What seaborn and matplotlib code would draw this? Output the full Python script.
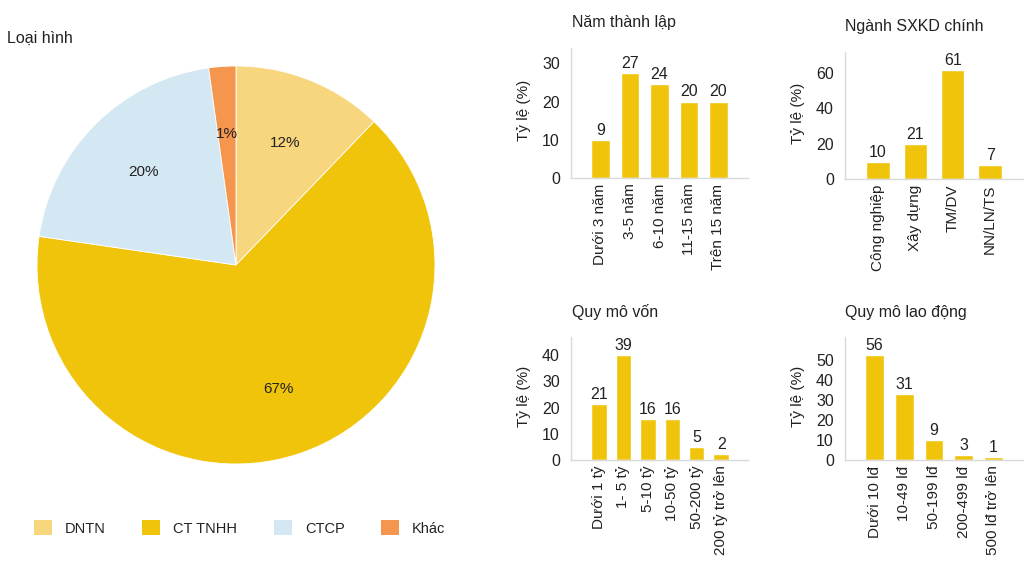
import matplotlib
matplotlib.use("Agg")
import matplotlib.pyplot as plt
from matplotlib.patches import Patch
import seaborn as sns
import pandas as pd

# ---------------- data ----------------
pie_categories = ["DNTN", "CT TNHH", "CTCP", "Khác"]
pie_values = [12.2, 65.1, 20.5, 2.2]
pie_labels = ["12%", "67%", "20%", "1%"]

nam_categories = ["Dưới 3 năm", "3-5 năm", "6-10 năm", "11-15 năm", "Trên 15 năm"]
nam_heights = [10.0, 27.4, 24.5, 20.0, 20.0]
nam_labels = ["9", "27", "24", "20", "20"]

nganh_categories = ["Công nghiệp", "Xây dựng", "TM/DV", "NN/LN/TS"]
nganh_heights = [9.6, 19.8, 61.6, 7.9]
nganh_labels = ["10", "21", "61", "7"]

von_categories = ["Dưới 1 tỷ", "1- 5 tỷ", "5-10 tỷ", "10-50 tỷ", "50-200 tỷ", "200 tỷ trở lên"]
von_heights = [21.3, 40.0, 15.6, 15.6, 4.9, 2.3]
von_labels = ["21", "39", "16", "16", "5", "2"]

ld_categories = ["Dưới 10 lđ", "10-49 lđ", "50-199 lđ", "200-499 lđ", "500 lđ trở lên"]
ld_heights = [52.5, 33.0, 10.0, 2.5, 1.5]
ld_labels = ["56", "31", "9", "3", "1"]

# ---------------- style ----------------
sns.set_theme(style="white")
plt.rcParams["font.family"] = ["Liberation Sans Narrow", "Liberation Sans", "DejaVu Sans"]
TXT = "#222222"
YEL = "#F1C40C"
pie_colors = ["#F7D67E", "#F1C40C", "#D4E8F3", "#F5964F"]

W, H = 1035, 565
fig = plt.figure(figsize=(W / 100, H / 100), dpi=100)

def fx(px):
    return px / W

def fy(py):
    return 1 - py / H

# ---------------- pie ----------------
cx, cy, r = 236, 265, 199
axp = fig.add_axes([fx(cx - r), fy(cy + r), 2 * r / W, 2 * r / H])
wedges, texts = axp.pie(pie_values, colors=pie_colors, startangle=90, counterclock=False,
                        labels=pie_labels, labeldistance=0.66,
                        wedgeprops=dict(edgecolor="white", linewidth=0.6),
                        textprops=dict(fontsize=11, color=TXT))
for t in texts:
    t.set_ha("center")
    t.set_va("center")
axp.set_aspect("equal")
axp.set_xlim(-1, 1)
axp.set_ylim(-1, 1)
fig.text(fx(7), fy(38), "Loại hình", fontsize=11.5, color=TXT, ha="left", va="center")

handles = [Patch(facecolor=c, edgecolor="none") for c in pie_colors]
fig.legend(handles, pie_categories, loc="center left", bbox_to_anchor=(fx(34), fy(528)),
           ncol=4, frameon=False, fontsize=10.5, handlelength=1.23, handleheight=1.23,
           handletextpad=0.9, columnspacing=2.5, borderpad=0, borderaxespad=0,
           labelcolor=TXT)

# ---------------- bars ----------------
def bar_panel(rect, cats, heights, labels, ylim, yticks, xlim, title, title_xy):
    left, right, base, top = rect
    ax = fig.add_axes([fx(left), fy(base), (right - left) / W, (base - top) / H])
    df = pd.DataFrame({"cat": cats, "val": heights})
    sns.barplot(data=df, x="cat", y="val", ax=ax, color=YEL, saturation=1, width=0.63)
    for i, (h, lab) in enumerate(zip(heights, labels)):
        ax.annotate(lab, (i, h), xytext=(0, 1.5), textcoords="offset points",
                    ha="center", va="bottom", fontsize=11.5, color=TXT)
    ax.set_ylim(*ylim)
    ax.set_yticks(yticks)
    ax.set_xlim(*xlim)
    ax.set_xlabel("")
    ax.set_ylabel("Tỷ lệ (%)", fontsize=11, color=TXT)
    ax.yaxis.set_label_coords(-0.225, 0.52)
    ax.tick_params(axis="x", rotation=90, length=0, pad=4, labelsize=11, labelcolor=TXT)
    ax.tick_params(axis="y", length=0, pad=8, labelsize=11.5, labelcolor=TXT)
    for s in ["top", "right"]:
        ax.spines[s].set_visible(False)
    for s in ["left", "bottom"]:
        ax.spines[s].set_color("#D9D9D9")
        ax.spines[s].set_linewidth(1.0)
    fig.text(fx(title_xy[0]), fy(title_xy[1]), title, fontsize=11.5, color=TXT,
             ha="left", va="center")
    return ax

bar_panel((571, 748, 178, 48), nam_categories, nam_heights, nam_labels,
          (0, 34), [0, 10, 20, 30], (-1.0, 5.0), "Năm thành lập", (572, 22))
bar_panel((845, 1023, 179, 52), nganh_categories, nganh_heights, nganh_labels,
          (0, 72), [0, 20, 40, 60], (-0.88, 3.88), "Ngành SXKD chính", (845, 27))
bar_panel((571, 748, 460, 337), von_categories, von_heights, von_labels,
          (0, 47), [0, 10, 20, 30, 40], (-1.15, 6.1), "Quy mô vốn", (572, 312))
bar_panel((845, 1023, 460, 337), ld_categories, ld_heights, ld_labels,
          (0, 61.5), [0, 10, 20, 30, 40, 50], (-1.0, 5.0), "Quy mô lao động", (845, 312))

fig.savefig("out.png", dpi=100, facecolor="white")
